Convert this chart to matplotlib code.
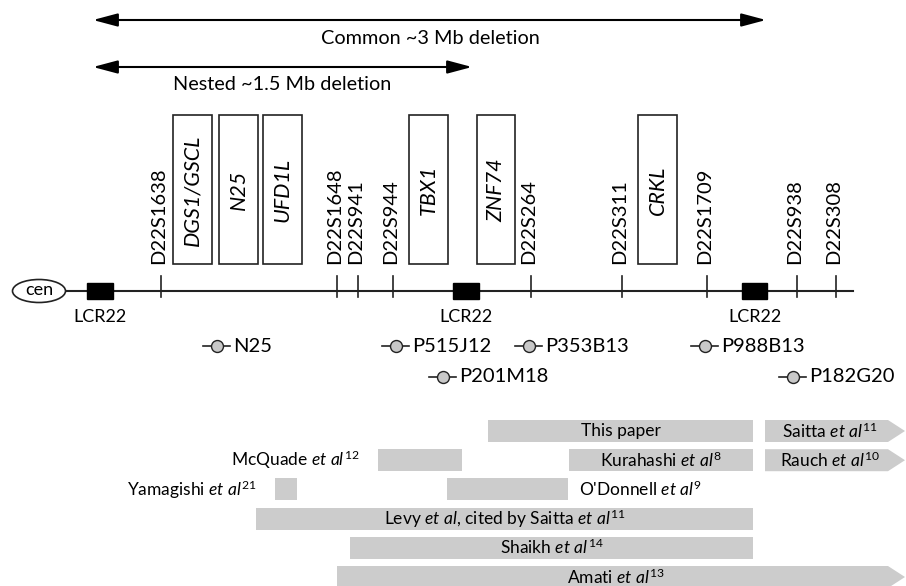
import matplotlib
matplotlib.use('Agg')
import matplotlib.pyplot as plt
from matplotlib.patches import Rectangle, Ellipse, Polygon

plt.rcParams['font.family'] = ['Lato', 'DejaVu Sans']
plt.rcParams['mathtext.fontset'] = 'custom'
plt.rcParams['mathtext.rm'] = 'Lato'
plt.rcParams['mathtext.it'] = 'Lato:italic'

# deletions (map pixel positions along the chromosome)
deletions = ['Common ~3 Mb deletion', 'Nested ~1.5 Mb deletion']
del_start = [93, 93]
del_end = [766, 472]

# markers
markers = ['D22S1638', 'D22S1648', 'D22S941', 'D22S944', 'D22S264',
           'D22S311', 'D22S1709', 'D22S938', 'D22S308']
marker_pos = [161, 337, 358, 393, 531, 622, 707, 797, 836]

# genes
genes = ['DGS1/GSCL', 'N25', 'UFD1L', 'TBX1', 'ZNF74', 'CRKL']
gene_start = [173, 219, 263, 409, 477, 638]
gene_end = [212, 258, 302, 448, 515, 677]

# low copy repeats
lcr_start = [87, 453, 742]
lcr_end = [113, 479, 767]

# clones
clones = ['N25', 'P515J12', 'P353B13', 'P988B13', 'P201M18', 'P182G20']
clone_pos = [217, 396, 529, 705, 443, 793]
clone_row = [0, 0, 0, 0, 1, 1]

# studies
studies = [r'This paper', r'Saitta $\mathit{et\ al}^{11}$',
           r'McQuade $\mathit{et\ al}^{12}$', r'Kurahashi $\mathit{et\ al}^{8}$',
           r'Rauch $\mathit{et\ al}^{10}$', r'Yamagishi $\mathit{et\ al}^{21}$',
           r"O'Donnell $\mathit{et\ al}^{9}$",
           r'Levy $\mathit{et\ al}$, cited by Saitta $\mathit{et\ al}^{11}$',
           r'Shaikh $\mathit{et\ al}^{14}$', r'Amati $\mathit{et\ al}^{13}$']
study_start = [488, 765, 378, 569, 765, 275, 447, 256, 350, 337]
study_end = [753, 905, 462, 753, 905, 297, 568, 753, 753, 905]
study_row = [0, 0, 1, 1, 1, 2, 2, 3, 4, 5]
study_open = [False, True, False, False, True, False, False, False, False, True]
label_side = ['in', 'in', 'left', 'in', 'in', 'left', 'right', 'in', 'in', 'in']

fig = plt.figure(figsize=(9.06, 5.86), dpi=100)
ax = fig.add_axes([0, 0, 1, 1])
ax.set_xlim(0, 906)
ax.set_ylim(586, 0)
ax.axis('off')

fs = 13
dark = '#222222'

# deletion arrows
for i, name in enumerate(deletions):
    y = 20 + 47 * i
    ax.annotate('', xy=(del_start[i], y), xytext=(del_end[i], y),
                arrowprops=dict(arrowstyle='<|-|>,head_length=0.75,head_width=0.2',
                                mutation_scale=20, color='black', lw=1.5,
                                shrinkA=0, shrinkB=0))
ax.text(430, 38, deletions[0], ha='center', va='center', fontsize=14.3)
ax.text(282, 84, deletions[1], ha='center', va='center', fontsize=14.3)

# chromosome
chrom_y = 291
ax.plot([66, 853], [chrom_y, chrom_y], color=dark, lw=1.5, zorder=1)
ax.add_patch(Ellipse((39, chrom_y), 53, 23, fc='white', ec=dark, lw=1.2))
ax.text(39, chrom_y - 1, 'cen', ha='center', va='center', fontsize=fs)

for a, b in zip(lcr_start, lcr_end):
    ax.add_patch(Rectangle((a, chrom_y - 8), b - a, 16, fc='black', ec='black', zorder=3))
    ax.text((a + b) / 2, 317, 'LCR22', ha='center', va='center', fontsize=fs)

for name, x in zip(markers, marker_pos):
    ax.plot([x, x], [276, 297], color=dark, lw=1.2)
    ax.text(x - 2, 264, name, rotation=90, ha='center', va='bottom', fontsize=14.5)

for name, a, b in zip(genes, gene_start, gene_end):
    ax.add_patch(Rectangle((a, 115), b - a, 149, fc='white', ec=dark, lw=1.2))
    ax.text((a + b) / 2, 190, name, rotation=90, ha='center', va='center',
            fontsize=15.5, style='italic')

# clones
for name, x, r in zip(clones, clone_pos, clone_row):
    y = 346 + 31 * r
    ax.plot([x - 14, x + 13], [y, y], color=dark, lw=1.2)
    ax.plot(x, y, 'o', ms=8.6, mfc='#c8c8c8', mec=dark, mew=1.0)
    ax.text(x + 16, y, name, ha='left', va='center', fontsize=14.5)

# studies
grey = '#cccccc'
for name, a, b, r, op, side in zip(studies, study_start, study_end, study_row,
                                   study_open, label_side):
    yc = 431 + 29.2 * r
    h = 22
    if op:
        pts = [(a, yc - h / 2), (b - 17, yc - h / 2), (b, yc), (b - 17, yc + h / 2), (a, yc + h / 2)]
        ax.add_patch(Polygon(pts, closed=True, fc=grey, ec='none'))
        xc = (a + b - 10) / 2
    else:
        ax.add_patch(Rectangle((a, yc - h / 2), b - a, h, fc=grey, ec='none'))
        xc = (a + b) / 2
    if side == 'in':
        ax.text(xc, yc, name, ha='center', va='center', fontsize=12.5)
    elif side == 'left':
        ax.text(a - 18, yc, name, ha='right', va='center', fontsize=12.5)
    else:
        ax.text(b + 11, yc, name, ha='left', va='center', fontsize=12.5)

fig.savefig('out.png', dpi=100)
